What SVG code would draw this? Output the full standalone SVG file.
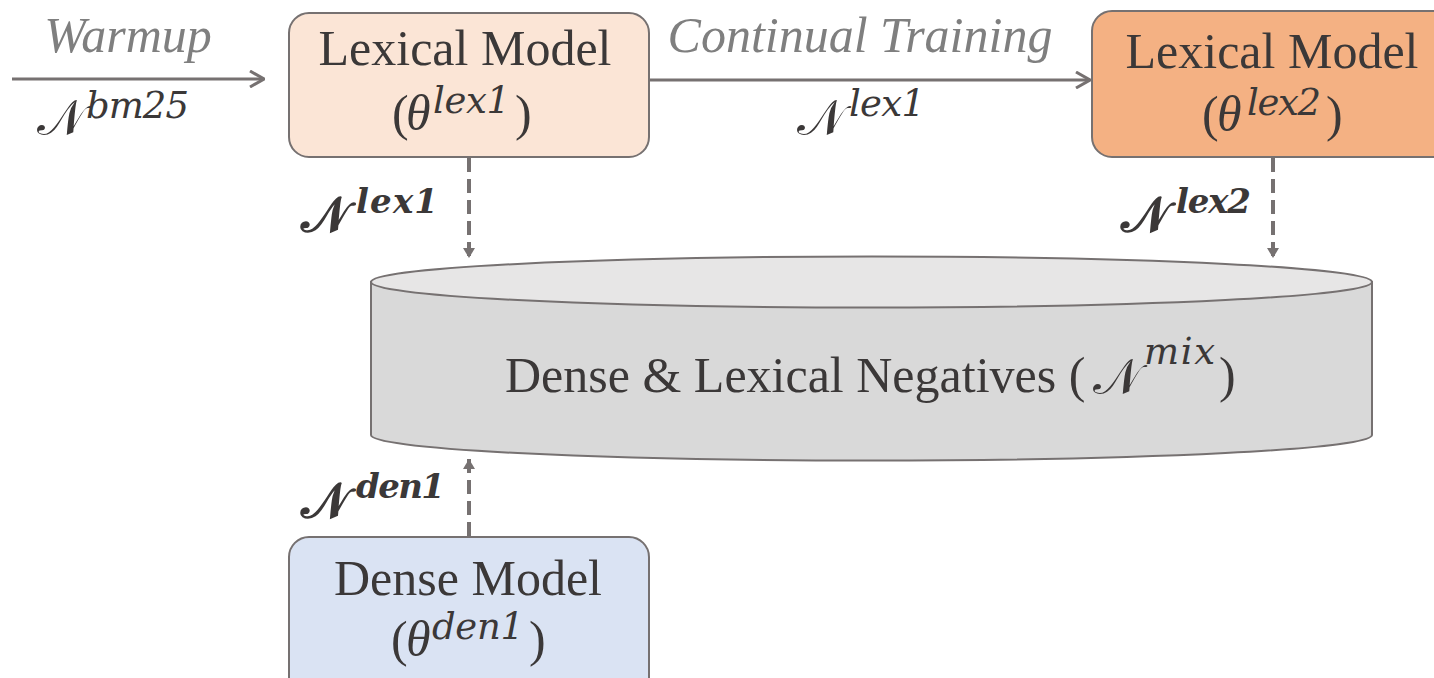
<svg xmlns="http://www.w3.org/2000/svg" width="1434" height="678" viewBox="0 0 1434 678">
<style>
.box{stroke:#767171;stroke-width:2}
.t{font-family:"Liberation Serif",serif;font-size:50px;fill:#3B3838}
.c{text-anchor:middle}
.lab{font-family:"Liberation Serif",serif;font-style:italic;font-size:50px;fill:#7F7F7F;text-anchor:middle}
.th{font-family:"Liberation Serif",serif;font-style:italic;font-size:50px;fill:#3B3838}
.cal{font-family:"DejaVu Serif","Noto Sans",serif;font-size:50px;fill:#3B3838}
.sup{font-family:"DejaVu Serif",serif;font-style:italic;font-size:37px;fill:#3B3838}
.b{font-weight:bold}
.sb{font-size:34px}
.solid{stroke:#767171;stroke-width:3;fill:none}
.dash{stroke:#767171;stroke-width:4;stroke-dasharray:14 7;fill:none}
</style>
<defs>
<marker id="open" viewBox="0 0 16 18" refX="15" refY="9" markerWidth="16" markerHeight="18" markerUnits="userSpaceOnUse" orient="auto">
<path d="M1,1 L15,9 L1,17" fill="none" stroke="#767171" stroke-width="3"/>
</marker>
<marker id="tri" viewBox="0 0 10 12" refX="10" refY="6" markerWidth="10" markerHeight="12" markerUnits="userSpaceOnUse" orient="auto">
<path d="M0,0 L10,6 L0,12 Z" fill="#767171"/>
</marker>
</defs>

<g id="connectors">
<line class="solid" x1="12" y1="79" x2="264" y2="79" marker-end="url(#open)"/>
<line class="solid" x1="650" y1="80" x2="1090" y2="80" marker-end="url(#open)"/>
<line class="dash" x1="469" y1="158" x2="469" y2="258" marker-end="url(#tri)"/>
<line class="dash" x1="1273" y1="158" x2="1273" y2="258" marker-end="url(#tri)"/>
<line class="dash" x1="469" y1="536" x2="469" y2="459" marker-end="url(#tri)"/>
<text class="lab" x="128" y="52">Warmup</text>
<text class="lab" x="860" y="52">Continual Training</text>
<text><tspan class="cal" x="37" y="135">𝒩</tspan><tspan class="sup" x="86" y="118" textLength="103" lengthAdjust="spacing">bm25</tspan></text>
<text><tspan class="cal" x="797" y="135">𝒩</tspan><tspan class="sup" x="849" y="116" textLength="76" lengthAdjust="spacing">lex1</tspan></text>
<text><tspan class="cal b" x="301" y="232" font-size="52">𝒩</tspan><tspan class="sup b sb" x="356" y="213" textLength="82" lengthAdjust="spacing">lex1</tspan></text>
<text><tspan class="cal b" x="1121" y="232" font-size="52">𝒩</tspan><tspan class="sup b sb" x="1176" y="213" textLength="75" lengthAdjust="spacing">lex2</tspan></text>
<text><tspan class="cal b" x="301" y="518" font-size="52">𝒩</tspan><tspan class="sup b sb" x="356" y="498" textLength="89" lengthAdjust="spacing">den1</tspan></text>
</g>

<g id="negatives">
<path d="M371,282 L371,435 A500.5,25.5 0 0 0 1372,435 L1372,282 Z" fill="#D9D9D9" class="box"/>
<ellipse cx="871.5" cy="282" rx="500.5" ry="25.5" fill="#E7E6E6" class="box"/>
<text><tspan class="t" x="505" y="392" font-size="51">Dense &amp; Lexical Negatives (</tspan><tspan class="cal" x="1093" y="394">𝒩</tspan><tspan class="sup" x="1144" y="364" textLength="71" lengthAdjust="spacing">mix</tspan><tspan class="t" x="1219" y="392" font-size="51">)</tspan></text>
</g>

<g id="lex1">
<rect class="box" x="289" y="13" width="360" height="144" rx="20" fill="#FBE5D6"/>
<text class="t c" x="465" y="65">Lexical Model</text>
<text><tspan class="t" x="392" y="130">(</tspan><tspan class="th" x="406" y="130">θ</tspan><tspan class="sup" x="433" y="113" textLength="77" lengthAdjust="spacing">lex1</tspan><tspan class="t" x="515" y="130">)</tspan></text>
</g>

<g id="lex2">
<rect class="box" x="1092" y="11" width="360" height="146" rx="20" fill="#F4B183"/>
<text class="t c" x="1272" y="68">Lexical Model</text>
<text><tspan class="t" x="1202" y="131">(</tspan><tspan class="th" x="1217" y="131">θ</tspan><tspan class="sup" x="1247" y="115" textLength="74" lengthAdjust="spacing">lex2</tspan><tspan class="t" x="1326" y="131">)</tspan></text>
</g>

<g id="dense">
<rect class="box" x="289" y="537" width="360" height="160" rx="20" fill="#DAE3F3"/>
<text class="t c" x="468" y="595">Dense Model</text>
<text><tspan class="t" x="391" y="656">(</tspan><tspan class="th" x="406" y="656">θ</tspan><tspan class="sup" x="432" y="639" textLength="92" lengthAdjust="spacing">den1</tspan><tspan class="t" x="529" y="656">)</tspan></text>
</g>
</svg>
